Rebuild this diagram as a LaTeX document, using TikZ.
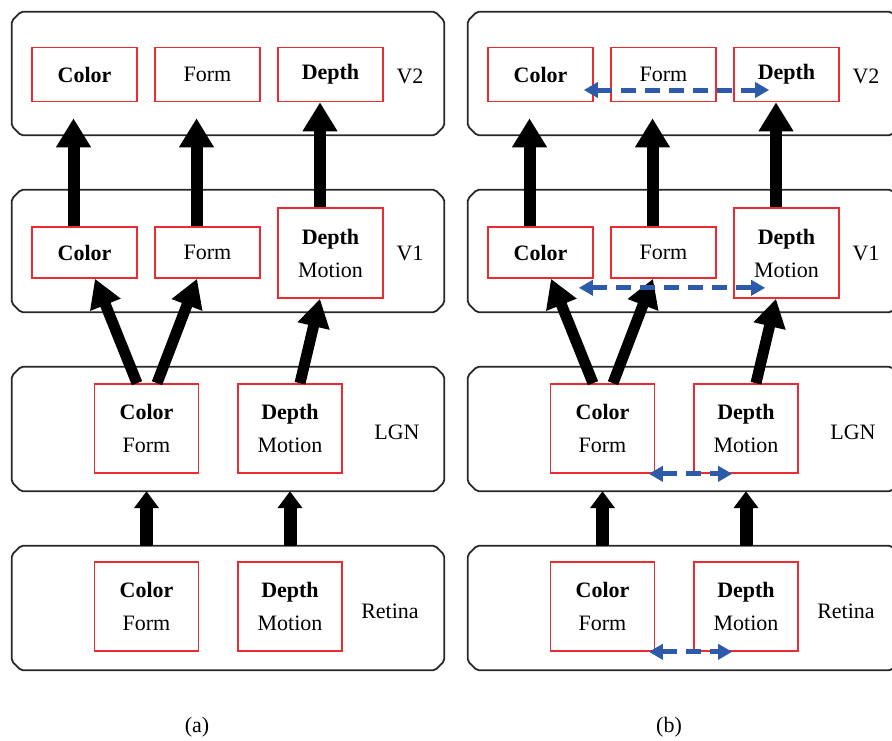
\documentclass[tikz,border=0pt]{standalone}
\usepackage{fontspec}
\setmainfont{Liberation Serif}
\usetikzlibrary{arrows.meta,calc}

\definecolor{boxred}{RGB}{236,42,48}
\definecolor{linkblue}{RGB}{46,90,170}
\definecolor{framegray}{RGB}{40,40,40}

\tikzset{
  layer/.style={rectangle, minimum width=432pt, inner sep=0pt},
  layerline/.style={draw=framegray, line width=1.8pt, rounded corners=2pt},
  area/.style={draw=boxred, line width=1.6pt, minimum width=105pt,
    inner sep=0pt, align=center, font=\fontsize{22}{33}\selectfont},
  single/.style={area, minimum height=54pt},
  double/.style={area, minimum height=89pt},
  lab/.style={font=\fontsize{22}{26}\selectfont},
  toparrow/.style={line width=12pt, -{Triangle[width=33pt,length=29pt]}},
  midarrow/.style={line width=11pt, -{Triangle[width=31pt,length=28pt]}},
  lowarrow/.style={line width=13pt, -{Triangle[width=24pt,length=17pt]}},
  link/.style={linkblue, line width=5pt, dash pattern=on 15pt off 9pt,
    {Triangle[width=15pt,length=14pt]}-{Triangle[width=15pt,length=14pt]}},
}

% outline of a stage node with cut corners
\newcommand\cutframe[1]{%
  \draw[layerline]
    ($(#1.north west)+(9,0)$) -- ($(#1.north east)+(-9,0)$) --
    ($(#1.north east)+(0,9)$) -- ($(#1.south east)+(0,-9)$) --
    ($(#1.south east)+(-9,0)$) -- ($(#1.south west)+(9,0)$) --
    ($(#1.south west)+(0,-9)$) -- ($(#1.north west)+(0,9)$) -- cycle;
}

% one complete panel; #1 is the prefix of its node names
\newcommand\visualpanel[1]{%
  % the four processing stages
  \node[layer, minimum height=123pt] (#1LayV2) at (228,73.5) {};
  \node[layer, minimum height=122pt] (#1LayV1) at (228,251) {};
  \node[layer, minimum height=124pt] (#1LayL) at (228,429) {};
  \node[layer, minimum height=124pt] (#1LayR) at (228,608) {};
  \cutframe{#1LayV2}\cutframe{#1LayV1}\cutframe{#1LayL}\cutframe{#1LayR}
  % V2
  \node[single] (#1V2color) at (84.5,74.5) {\bfseries Color};
  \node[single] (#1V2form) at (207.5,74.5) {Form};
  \node[single] (#1V2depth) at (330.5,74.5) {\bfseries Depth};
  \node[lab] (#1tV2) at (410,76) {V2};
  % V1
  \node[area, minimum height=51pt] (#1V1color) at (84.5,252.5) {\bfseries Color};
  \node[area, minimum height=51pt] (#1V1form) at (207.5,252.5) {Form};
  \node[double, minimum height=90pt] (#1V1dm) at (330.5,253) {\bfseries Depth\\Motion};
  \node[lab] (#1tV1) at (410,253) {V1};
  % LGN
  \node[double, minimum width=104pt] (#1Lcf) at (146.5,428.5) {\bfseries Color\\Form};
  \node[double, minimum width=104pt] (#1Ldm) at (290,428.5) {\bfseries Depth\\Motion};
  \node[lab] (#1tLGN) at (397,432) {LGN};
  % Retina
  \node[double, minimum width=104pt] (#1Rcf) at (146.5,606.5) {\bfseries Color\\Form};
  \node[double, minimum width=104pt] (#1Rdm) at (290,606.5) {\bfseries Depth\\Motion};
  \node[lab] (#1tRet) at (390,611) {Retina};
  % feed-forward pathways
  \draw[toparrow] ($(#1V1color.north)+(-11,0)$) -- ($(#1V2color.south)+(-11,16)$);
  \draw[toparrow] ($(#1V1form.north)+(-11,0)$) -- ($(#1V2form.south)+(-11,16)$);
  \draw[toparrow] ($(#1V1dm.north)+(-10.5,0)$) -- ($(#1V2depth.south)+(-10.5,0)$);
  \draw[midarrow] ($(#1Lcf.north)+(-9.5,0)$) -- ($(#1V1color.south)+(10.5,0)$);
  \draw[midarrow] ($(#1Lcf.north)+(10.5,0)$) -- ($(#1V1form.south)+(-10.5,0)$);
  \draw[midarrow] ($(#1Ldm.north)+(10,0)$) -- ($(#1V1dm.south)+(-10.5,0)$);
  \draw[lowarrow] (#1Rcf.north |- #1LayR.north) -- (#1Rcf.north |- #1LayL.south);
  \draw[lowarrow] (#1Rdm.north |- #1LayR.north) -- (#1Rdm.north |- #1LayL.south);
}

\begin{document}
\begin{tikzpicture}[x=1pt, y=-1pt]
  \useasboundingbox (0,0) rectangle (892,740);
  \clip (0,0) rectangle (892,740);

  \visualpanel{a}
  \begin{scope}[xshift=456pt]
    \visualpanel{b}
  \end{scope}

  % lateral interactions between the streams
  \draw[link] ($(bV2color.east)+(-10,15.5)$) -- ($(bV2depth.west)+(36,15.5)$);
  \draw[link] ($(bV1color.south east)+(-15,9)$) -- ($(bV1dm.south west)+(32,-11)$);
  \draw[link] ($(bLcf.south east)+(-6.5,0)$) -- ($(bLdm.south west)+(39,0)$);
  \draw[link] ($(bRcf.south east)+(-6.5,0)$) -- ($(bRdm.south west)+(39,0)$);

  % panel captions
  \node[lab] (capa) at (197,727) {(a)};
  \node[lab] (capb) at (669,727) {(b)};
\end{tikzpicture}
\end{document}
